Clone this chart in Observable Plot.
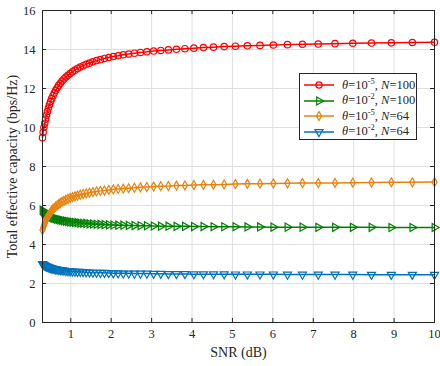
<!DOCTYPE html>
<html>
<head>
<meta charset="utf-8">
<script src="https://cdn.jsdelivr.net/npm/d3@7"></script>
<script src="https://cdn.jsdelivr.net/npm/@observablehq/plot@0.6"></script>
<style>
  body { margin: 0; background: #fff; }
  #wrap { position: relative; width: 440px; height: 366px; font-family: "Liberation Serif", "Times New Roman", serif; color: #262626; }
  #legend { position: absolute; left: 299px; top: 73px; width: 116px; height: 65px; border: 1px solid #262626; background: #fff; }
  .row { position: absolute; left: 0; height: 16px; display: flex; align-items: center; font-size: 12.5px; white-space: nowrap; }
  .row svg { display: block; margin-right: 4px; }
  .row sup { font-size: 8.5px; vertical-align: 5px; line-height: 0; }
</style>
</head>
<body>
<div id="wrap">
  <div id="chart"></div>
  <div id="legend"></div>
</div>
<script>
// ---- data ----
const snr = [0.300,0.317,0.336,0.355,0.376,0.398,0.421,0.446,0.472,0.499,
  0.528,0.559,0.591,0.626,0.662,0.701,0.742,0.785,0.830,0.879,
  0.930,0.984,1.041,1.102,1.166,1.234,1.306,1.382,1.462,1.547,
  1.637,1.732,1.833,1.940,2.053,2.172,2.298,2.432,2.574,2.723,
  2.882,3.050,3.227,3.415,3.614,3.824,4.046,4.282,4.531,4.795,
  5.074,5.369,5.681,6.012,6.362,6.732,7.123,7.538,7.977,8.441,
  8.932,9.452,10.000];

const capTheta5N100 = [9.48,9.76,10.01,10.22,10.43,10.63,10.82,11.00,11.17,11.33,
  11.48,11.63,11.77,11.91,12.03,12.16,12.27,12.38,12.49,12.59,
  12.68,12.77,12.86,12.94,13.02,13.10,13.17,13.24,13.30,13.37,
  13.43,13.48,13.54,13.59,13.64,13.68,13.73,13.77,13.81,13.85,
  13.88,13.92,13.95,13.98,14.01,14.04,14.07,14.10,14.12,14.15,
  14.17,14.19,14.21,14.23,14.25,14.27,14.28,14.30,14.32,14.33,
  14.34,14.36,14.37];

const capTheta2N100 = [5.76,5.72,5.67,5.63,5.60,5.56,5.52,5.49,5.46,5.43,
  5.40,5.37,5.35,5.32,5.30,5.28,5.26,5.24,5.22,5.20,
  5.18,5.16,5.15,5.13,5.12,5.10,5.09,5.08,5.06,5.05,
  5.04,5.03,5.02,5.01,5.00,4.99,4.99,4.98,4.97,4.96,
  4.96,4.95,4.94,4.94,4.93,4.93,4.92,4.92,4.91,4.91,
  4.91,4.90,4.90,4.89,4.89,4.89,4.88,4.88,4.88,4.88,
  4.87,4.87,4.87];

const capTheta5N64 = [4.74,4.86,4.98,5.09,5.19,5.30,5.39,5.48,5.57,5.65,
  5.73,5.81,5.88,5.94,6.01,6.07,6.13,6.19,6.24,6.29,
  6.34,6.39,6.43,6.47,6.51,6.55,6.59,6.62,6.66,6.69,
  6.72,6.75,6.77,6.80,6.83,6.85,6.87,6.89,6.91,6.93,
  6.95,6.97,6.99,7.00,7.02,7.03,7.05,7.06,7.07,7.08,
  7.10,7.11,7.12,7.13,7.14,7.15,7.15,7.16,7.17,7.18,
  7.19,7.19,7.20];

const capTheta2N64 = [3.00,2.98,2.95,2.93,2.90,2.88,2.86,2.84,2.82,2.80,
  2.78,2.76,2.75,2.73,2.72,2.70,2.69,2.68,2.67,2.65,
  2.64,2.63,2.62,2.61,2.60,2.60,2.59,2.58,2.57,2.56,
  2.56,2.55,2.55,2.54,2.53,2.53,2.52,2.52,2.51,2.51,
  2.51,2.50,2.50,2.49,2.49,2.49,2.48,2.48,2.48,2.48,
  2.47,2.47,2.47,2.47,2.46,2.46,2.46,2.46,2.46,2.45,
  2.45,2.45,2.45];

const seriesExp = ["-5", "-2", "-5", "-2"];
const seriesN = ["100", "100", "64", "64"];
const xTicks = [1,2,3,4,5,6,7,8,9,10];
const yTicks = [0,2,4,6,8,10,12,14,16];

// ---- styles ----
const seriesStyle = [
  {values: capTheta5N100, color: "#ff0000", symbol: "circle", r: 3.2, rotate: 0},
  {values: capTheta2N100, color: "#008000", symbol: "triangle", r: 3.0, rotate: 90},
  {values: capTheta5N64,  color: "#e8820e", symbol: "diamond", r: 2.7, rotate: 0},
  {values: capTheta2N64,  color: "#0072bd", symbol: "triangle", r: 3.0, rotate: 180}
];

const W = 440, H = 366, mL = 42, mR = 6, mT = 10, mB = 44;
const pw = W - mL - mR, ph = H - mT - mB;
const tk = 4;
const axisColor = "#262626";
const gridColor = "#dfdfdf";

const marks = [
  Plot.gridX(xTicks, {stroke: gridColor, strokeOpacity: 1, strokeWidth: 1}),
  Plot.gridY(yTicks, {stroke: gridColor, strokeOpacity: 1, strokeWidth: 1}),
];

seriesStyle.forEach(s => {
  const rows = snr.map((x, i) => ({x, y: s.values[i]}));
  marks.push(Plot.line(rows, {x: "x", y: "y", stroke: s.color, strokeWidth: 1.5}));
  marks.push(Plot.dot(rows, {x: "x", y: "y", stroke: s.color, fill: "none", strokeWidth: 1.2, symbol: s.symbol, r: s.r, rotate: s.rotate}));
});

marks.push(
  Plot.frame({stroke: axisColor, strokeWidth: 1}),
  Plot.tickX(xTicks, {x: d => d, stroke: axisColor, insetTop: ph - tk}),
  Plot.tickX(xTicks, {x: d => d, stroke: axisColor, insetBottom: ph - tk}),
  Plot.tickY(yTicks, {y: d => d, stroke: axisColor, insetRight: pw - tk}),
  Plot.tickY(yTicks, {y: d => d, stroke: axisColor, insetLeft: pw - tk}),
  Plot.axisX(xTicks, {tickSize: 0, tickPadding: 7, label: null, fontSize: 12.5, fill: axisColor}),
  Plot.axisY(yTicks, {tickSize: 0, tickPadding: 7, label: null, fontSize: 12.5, fill: axisColor}),
  Plot.axisX([], {tickSize: 0, label: "SNR (dB)", labelAnchor: "center", labelArrow: "none", labelOffset: 34, fontSize: 14, fill: axisColor}),
  Plot.axisY([], {tickSize: 0, label: "Total effective capacity (bps/Hz)", labelAnchor: "center", labelArrow: "none", labelOffset: 35, fontSize: 14, fill: axisColor})
);

const chart = Plot.plot({
  width: W, height: H,
  marginLeft: mL, marginRight: mR, marginTop: mT, marginBottom: mB,
  style: {fontFamily: '"Liberation Serif", "Times New Roman", serif', background: "#fff", color: axisColor},
  x: {domain: [0.3, 10], label: null},
  y: {domain: [0, 16], label: null},
  marks
});
document.getElementById("chart").appendChild(chart);

// ---- legend (HTML overlay) ----
const legend = document.getElementById("legend");
seriesStyle.forEach((s, i) => {
  const row = document.createElement("div");
  row.className = "row";
  row.style.top = (3 + i * 15.6) + "px";
  const sym = {circle: d3.symbolCircle, triangle: d3.symbolTriangle, diamond: d3.symbolDiamond}[s.symbol];
  const path = d3.symbol(sym, Math.PI * s.r * s.r)();
  row.innerHTML =
    `<svg width="38" height="16"><line x1="4" x2="34" y1="8" y2="8" stroke="${s.color}" stroke-width="1.5"/>` +
    `<path d="${path}" transform="translate(19,8) rotate(${s.rotate})" fill="none" stroke="${s.color}" stroke-width="1.2"/></svg>` +
    `<span><i>θ</i>=10<sup>${seriesExp[i]}</sup>, <i>N</i>=${seriesN[i]}</span>`;
  legend.appendChild(row);
});
</script>
</body>
</html>
